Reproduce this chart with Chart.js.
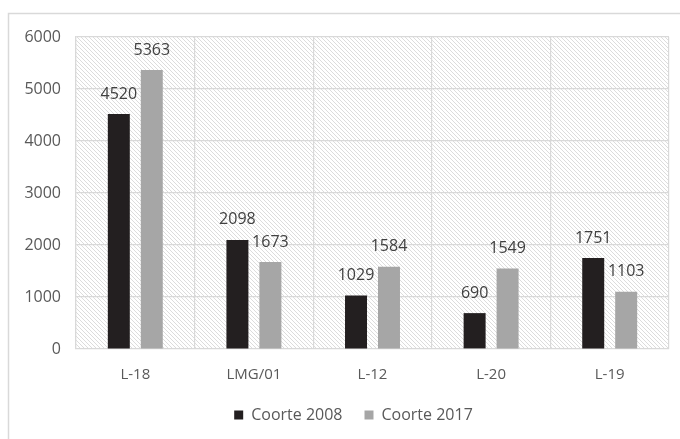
<!DOCTYPE html>
<html>
<head>
<meta charset="utf-8">
<script src="https://cdn.jsdelivr.net/npm/chart.js@4"></script>
<style>
  html, body { margin: 0; padding: 0; background: #ffffff; }
  #wrap { width: 680px; height: 439px; position: relative; }
</style>
</head>
<body>
<div id="wrap"><canvas id="chart" width="680" height="439"></canvas></div>
<script>
// Categories and series
const categories = ['L-18', 'LMG/01', 'L-12', 'L-20', 'L-19'];
const coorte2008 = [4520, 2098, 1029, 690, 1751];
const coorte2017 = [5363, 1673, 1584, 1549, 1103];
const seriesNames = ['Coorte 2008', 'Coorte 2017'];
const yTicks = [0, 1000, 2000, 3000, 4000, 5000, 6000];

const FONT = '"Open Sans", "DejaVu Sans", sans-serif';

// Diagonal hatch used behind the plot area
function makeHatch(ctx) {
  const c = document.createElement('canvas');
  c.width = 4; c.height = 4;
  const g = c.getContext('2d');
  g.fillStyle = '#ffffff';
  g.fillRect(0, 0, 4, 4);
  g.strokeStyle = '#dcdcdc';
  g.lineWidth = 1;
  g.beginPath();
  g.moveTo(-1, -1); g.lineTo(5, 5);
  g.moveTo(-1, 3); g.lineTo(1, 5);
  g.moveTo(3, -1); g.lineTo(5, 1);
  g.stroke();
  return ctx.createPattern(c, 'repeat');
}

const framePlugin = {
  id: 'frame',
  afterLayout(chart) {
    // center the legend under the plot area rather than the whole canvas
    const lg = chart.legend;
    if (lg) { lg.left += 19; lg.right += 19; }
  },
  beforeDraw(chart) {
    const ctx = chart.ctx;
    const a = chart.chartArea;
    ctx.save();
    ctx.fillStyle = '#ffffff';
    ctx.fillRect(0, 0, chart.width, chart.height);
    ctx.strokeStyle = '#d9d9d9';
    ctx.lineWidth = 1.5;
    ctx.strokeRect(8.5, 13.5, chart.width + 20, chart.height + 20);
    ctx.fillStyle = makeHatch(ctx);
    ctx.fillRect(a.left, a.top, a.right - a.left, a.bottom - a.top);
    ctx.restore();
  }
};

// Value labels above each bar
const valueLabels = {
  id: 'valueLabels',
  afterDatasetsDraw(chart) {
    const ctx = chart.ctx;
    ctx.save();
    ctx.font = '16px ' + FONT;
    ctx.fillStyle = '#404040';
    ctx.textAlign = 'center';
    ctx.textBaseline = 'middle';
    chart.data.datasets.forEach((ds, i) => {
      chart.getDatasetMeta(i).data.forEach((bar, j) => {
        ctx.fillText(String(ds.data[j]), bar.x, bar.y - 20);
      });
    });
    ctx.restore();
  }
};

new Chart(document.getElementById('chart'), {
  type: 'bar',
  data: {
    labels: categories,
    datasets: [
      { label: seriesNames[0], data: coorte2008, backgroundColor: '#231f20' },
      { label: seriesNames[1], data: coorte2017, backgroundColor: '#a6a6a6' }
    ]
  },
  options: {
    responsive: false,
    animation: false,
    barPercentage: 0.667,
    categoryPercentage: 0.556,
    layout: { padding: { left: 0, right: 11, top: 37, bottom: 6 } },
    scales: {
      x: {
        grid: { color: '#d9d9d9', lineWidth: 1.2, drawTicks: false, offset: true },
        border: { display: false },
        ticks: { color: '#595959', font: { family: FONT, size: 15 }, padding: 17 },
        afterFit(s) { s.height = 36; }
      },
      y: {
        min: 0, max: 6000,
        grid: { color: '#d9d9d9', lineWidth: 1.2, drawTicks: false },
        border: { display: true, color: '#d9d9d9', width: 1.2 },
        afterBuildTicks(s) { s.ticks = yTicks.map(v => ({ value: v })); },
        ticks: {
          color: '#595959', font: { family: FONT, size: 16 }, padding: 15,
          callback: v => String(v)
        },
        afterFit(s) { s.width = 76; }
      }
    },
    plugins: {
      legend: {
        position: 'bottom',
        maxHeight: 56,
        labels: {
          color: '#595959',
          font: { family: FONT, size: 16 },
          boxWidth: 9, boxHeight: 9,
          padding: 22
        }
      },
      tooltip: { enabled: false }
    }
  },
  plugins: [framePlugin, valueLabels]
});
</script>
</body>
</html>
